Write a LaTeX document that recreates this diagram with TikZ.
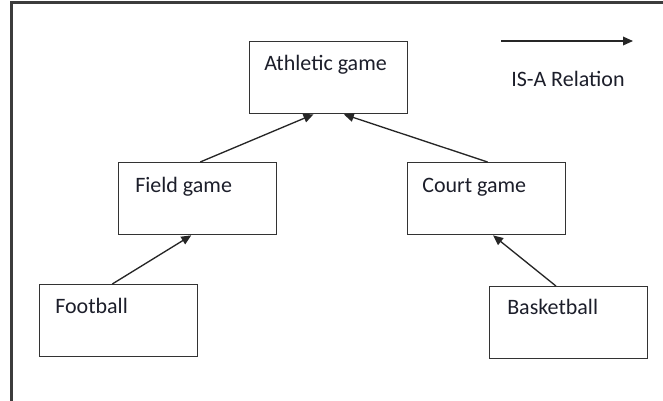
\documentclass[tikz,border=0pt]{standalone}
\usepackage{fontspec}
\setmainfont{Carlito}
\usetikzlibrary{arrows.meta,calc}
\definecolor{txt}{RGB}{28,30,42}
\definecolor{frame}{RGB}{60,60,60}
\begin{document}
\begin{tikzpicture}[x=0.75pt,y=-0.75pt,
  box/.style={draw=black!80,line width=1pt,rectangle,minimum width=118.5pt,minimum height=54pt,inner sep=0pt,anchor=north west},
  lbl/.style={anchor=base west,inner sep=0pt,font=\fontsize{16.5}{20}\selectfont,text=txt},
  isa/.style={draw=black!85,line width=1pt,-{Triangle[length=7.5pt,width=6.5pt]}}]
\useasboundingbox (0,0) rectangle (663,400);
% outer frame (cropped at right and bottom)
\draw[frame,line width=1.6pt] (11.5,402) -- (11.5,2.5) -- (665,2.5);
% boxes
\node[box] (ath) at (249,41) {};
\node[box] (field) at (118,162) {};
\node[box] (court) at (407,162) {};
\node[box] (foot) at (39,284) {};
\node[box] (bask) at (489,286) {};
% texts
\node[lbl] (athT) at (264,70) {Athletic game};
\node[lbl] (fieldT) at (135,192) {Field game};
\node[lbl] (courtT) at (422,192) {Court game};
\node[lbl] (footT) at (55,313) {Football};
\node[lbl] (baskT) at (507,314) {Basketball};
\node[lbl] (isaT) at (511,86) {IS-A Relation};
% legend arrow
\coordinate (legA) at (501,41);
\coordinate (legB) at (633,41);
\draw[isa] (legA) -- (legB);
% IS-A connectors
\draw[isa] ($(field.north west)!0.516!(field.north east)$) -- ($(ath.south west)!0.405!(ath.south east)$);
\draw[isa] ($(court.north west)!0.506!(court.north east)$) -- ($(ath.south west)!0.595!(ath.south east)$);
\draw[isa] ($(foot.north west)!0.46!(foot.north east)$) -- ($(field.south west)!0.46!(field.south east)$);
\draw[isa] ($(bask.north west)!0.42!(bask.north east)$) -- ($(court.south west)!0.54!(court.south east)$);
\end{tikzpicture}
\end{document}
